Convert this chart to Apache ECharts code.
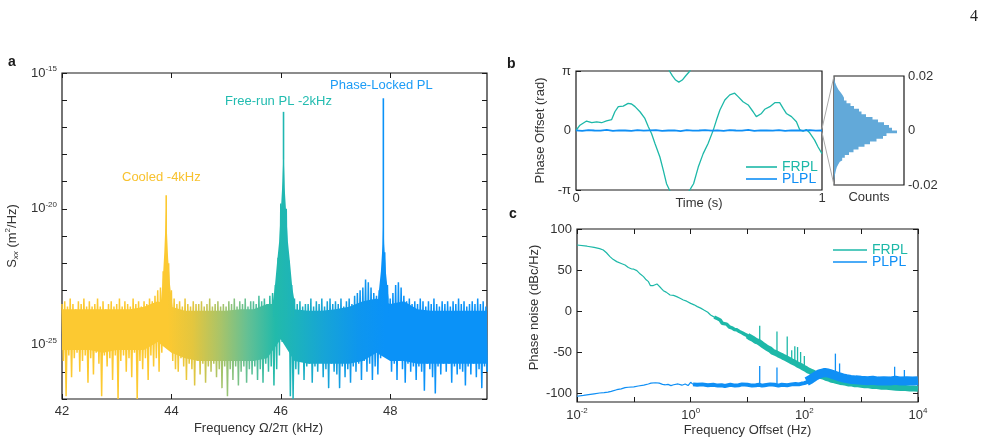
<!DOCTYPE html>
<html>
<head>
<meta charset="utf-8">
<script src="https://cdn.jsdelivr.net/npm/echarts@6/dist/echarts.min.js"></script>
<style>
  html, body { margin: 0; padding: 0; background: #fff; }
  #chart { width: 988px; height: 444px; }
</style>
</head>
<body>
<div id="chart"></div>
<script>
// ---- panel a: Sxx spectrum, log10(m^2/Hz), one max/min pair per 0.05 kHz from 42 kHz
const specStart = 42.0;
const specStep = 0.05;
const specHi = [
  -23.5,-23.4,-23.6,-23.3,-23.5,-23.7,-23.4,-23.5,-23.3,-23.6,
  -23.4,-23.6,-23.5,-23.3,-23.6,-23.4,-23.7,-23.5,-23.4,-23.6,
  -23.5,-23.3,-23.6,-23.4,-23.5,-23.6,-23.3,-23.5,-23.4,-23.6,
  -23.4,-23.5,-23.3,-23.4,-23.2,-23.0,-22.9,-22.3,-21.2,-22.0,
  -23.0,-23.3,-23.5,-23.4,-23.6,-23.3,-23.5,-23.6,-23.4,-23.5,
  -23.5,-23.4,-23.6,-23.5,-23.3,-23.6,-23.5,-23.4,-23.6,-23.5,
  -23.6,-23.4,-23.5,-23.3,-23.6,-23.4,-23.5,-23.3,-23.6,-23.4,
  -23.4,-23.5,-23.2,-23.4,-23.3,-23.5,-23.2,-23.1,-22.8,-21.8,
  -19.8,-18.2,-20.0,-21.9,-22.8,-23.3,-23.5,-23.4,-23.6,-23.5,
  -23.5,-23.3,-23.6,-23.4,-23.5,-23.3,-23.6,-23.4,-23.3,-23.5,
  -23.4,-23.5,-23.3,-23.6,-23.4,-23.3,-23.5,-23.2,-23.1,-23.0,
  -22.9,-22.6,-22.7,-22.9,-23.1,-23.2,-23.0,-22.5,-21.6,-22.8,
  -23.3,-23.1,-22.8,-22.7,-22.9,-23.2,-23.4,-23.3,-23.5,-23.4,
  -23.5,-23.3,-23.4,-23.6,-23.4,-23.5,-23.3,-23.5,-23.6,-23.4,
  -23.5,-23.4,-23.6,-23.4,-23.5,-23.3,-23.5,-23.4,-23.6,-23.5,
  -23.4,-23.5,-23.3,-23.5,-23.4,-23.6
];
const specLo = [
  -25.6,-26.9,-25.4,-26.2,-25.5,-25.3,-26.0,-25.6,-25.4,-26.4,
  -25.5,-26.1,-25.3,-25.7,-26.9,-25.4,-25.8,-25.5,-26.3,-25.4,
  -27.0,-25.6,-25.4,-26.0,-25.5,-26.2,-25.3,-27.0,-25.6,-25.9,
  -25.5,-26.3,-25.4,-25.8,-25.5,-26.0,-25.3,-24.9,-24.8,-25.0,
  -25.6,-25.9,-26.0,-25.5,-25.8,-26.3,-25.7,-25.9,-26.5,-25.6,
  -26.1,-25.7,-26.4,-25.8,-26.0,-25.7,-26.2,-25.9,-26.6,-25.8,
  -26.9,-25.9,-26.3,-25.8,-26.5,-26.0,-25.8,-26.4,-25.9,-26.1,
  -25.8,-26.3,-25.9,-26.4,-25.7,-26.0,-25.8,-26.5,-25.9,-25.4,
  -24.9,-24.7,-25.0,-26.9,-27.0,-25.9,-26.1,-25.6,-26.3,-25.8,
  -25.7,-26.4,-25.8,-26.0,-25.6,-26.2,-25.9,-26.6,-25.7,-26.0,
  -26.1,-26.6,-25.8,-26.2,-25.9,-26.4,-25.8,-26.0,-25.7,-26.3,
  -25.6,-26.0,-25.7,-26.3,-25.8,-26.1,-25.5,-25.0,-24.7,-25.3,
  -26.0,-25.7,-26.3,-25.6,-25.9,-26.4,-25.7,-26.0,-25.8,-26.3,
  -25.8,-26.0,-26.7,-25.7,-25.9,-26.2,-26.8,-25.8,-26.1,-25.7,
  -26.0,-25.7,-26.4,-25.8,-26.1,-25.9,-26.0,-26.5,-25.8,-26.1,
  -25.7,-26.2,-25.9,-26.6,-25.8,-26.0
];
// solid body of the noise band, read every 0.25 kHz from 42 kHz
const coreStart = 42.0;
const coreStep = 0.25;
const coreHi = [-23.7,-23.7,-23.7,-23.7,-23.7,-23.7,-23.6,-23.4,-23.6,-23.75,-23.75,-23.75,-23.75,-23.7,-23.7,-23.5,-23.5,-23.7,-23.75,-23.75,-23.7,-23.6,-23.4,-23.3,-23.5,-23.4,-23.7,-23.75,-23.75,-23.75,-23.75,-23.75];
const coreLo = [-25.2,-25.2,-25.2,-25.3,-25.2,-25.2,-25.2,-24.9,-25.3,-25.5,-25.6,-25.6,-25.6,-25.6,-25.6,-25.5,-24.8,-25.6,-25.7,-25.7,-25.7,-25.7,-25.6,-25.3,-25.6,-25.6,-25.7,-25.7,-25.7,-25.7,-25.7,-25.7];
// filled shoulders of the three resonances
const cooledBodyF = [43.80, 43.84, 43.87, 43.89, 43.905, 43.92, 43.94, 43.97, 44.02];
const cooledBodyS = [-23.6, -22.7, -21.6, -20.6, -19.8, -20.9, -21.8, -22.7, -23.6];
const freeBodyF = [45.85, 45.89, 45.93, 45.97, 46.0, 46.03, 46.05, 46.07, 46.1, 46.13, 46.17, 46.21, 46.26];
const freeBodyS = [-23.5, -22.9, -22.0, -21.2, -20.1, -19.0, -17.8, -19.2, -20.2, -21.2, -22.0, -22.9, -23.5];
const lockBodyF = [47.78, 47.83, 47.86, 47.875, 47.89, 47.92, 47.97];
const lockBodyS = [-23.3, -22.3, -21.3, -20.2, -21.3, -22.3, -23.3];
// narrow resonance tips
const peakFreq = [43.905, 46.05, 47.875];
const peakBase = [-21.2, -18.2, -21.6];
const peakTop = [-19.5, -16.43, -15.93];
const specTickExp = [-27,-26,-25,-24,-23,-22,-21,-20,-19,-18,-17,-16,-15];
const specLabelExp = [-25, -20, -15];
const freqTicks = [42, 44, 46, 48];

// ---- panel b: phase offset vs time (unwrapped FRPL, PLPL near zero)
const frplT = [0,0.016,0.043,0.064,0.084,0.104,0.124,0.145,0.158,0.172,0.192,0.212,0.226,0.240,0.260,0.280,0.294,0.307,0.321,0.341,0.355,0.368,0.380,0.392,0.405,0.418,0.432,0.447,0.463,0.470,0.478,0.497,0.517,0.537,0.558,0.571,0.585,0.605,0.625,0.645,0.659,0.679,0.700,0.720,0.733,0.754,0.767,0.788,0.808,0.828,0.842,0.855,0.876,0.896,0.909,0.923,0.936,0.950,0.970,0.984,1.0];
const frplPhi = [0,0.28,0.50,0.41,0.46,0.41,0.51,0.58,0.99,1.26,1.29,1.43,1.40,1.26,0.99,0.64,0.20,-0.16,-0.69,-1.40,-2.11,-2.81,-3.14,-3.40,-3.62,-3.73,-3.62,-3.38,-3.14,-2.98,-2.81,-1.93,-1.22,-0.69,0.02,0.55,1.08,1.61,1.88,1.97,1.79,1.52,1.35,0.99,0.73,0.90,1.12,1.26,1.47,1.47,1.17,0.90,0.73,0.46,0.05,-0.04,0.05,-0.12,-0.51,-0.87,-1.22];
const plplStep = 0.025;
const plplPhi = [0.01,-0.02,0.02,0,-0.01,0.03,-0.02,0.01,0,-0.02,0.02,-0.01,0.01,0.02,-0.02,0,0.01,-0.03,0.02,-0.01,0,0.02,-0.01,0.01,-0.02,0.02,0,-0.01,0.03,-0.02,0.01,0,-0.01,0.02,-0.02,0.01,0,-0.01,0.02,-0.01,0];
// PLPL phase histogram, 0.001 rad bins from -0.02, counts (arbitrary units)
const histStart = -0.02;
const histWidth = 0.001;
const histCounts = [0,0,0.4,0.8,1.4,2.0,2.8,4.2,5.8,8.2,10.8,15.0,19.5,24.5,30.5,36.0,42.5,49.0,52.5,63,58,55,50,44,38.5,32,27.5,25,20,16.5,12.5,10,8.5,6.5,4.5,3,1.8,0.8,0.2,0];

// ---- panel c: phase noise (dBc/Hz) vs offset frequency (Hz)
const frplLoF = [0.01,0.015,0.02,0.025,0.029,0.033,0.038,0.043,0.05,0.06,0.07,0.08,0.092,0.1,0.113,0.13,0.148,0.165,0.181,0.195,0.207,0.22,0.237,0.255,0.271,0.3,0.331,0.37,0.4,0.434,0.47,0.5,0.53,0.568,0.61,0.65,0.7,0.743,0.8,0.85,0.92,1.0,1.08,1.15,1.23,1.31,1.4,1.5,1.6,1.71,1.85,2.0,2.24,2.6,3.0,3.3];
const frplLoDb = [80.5,79,77.5,76,74.4,71,66.3,63,60.2,58,56.1,53,51.2,51,49.2,45,41.9,38,35.8,31,28.9,31,32.9,33,31.7,28,24.8,23,21.5,19.5,20.5,19,18.5,17.5,16.5,15.5,14.5,13.4,13,12,10.5,9.3,8.5,7.5,6.8,5.3,5,3.5,2.5,1.2,0,-1.5,-4.9,-7.5,-9.5,-11];
const frplMidF = [2.6,3.0,3.3,3.6,3.9,4.3,4.8,5.3,5.9,6.5,7.2,8,9,10,11];
const frplMidDb = [-7.5,-9.5,-11,-15,-17,-16,-19.5,-20.5,-22.5,-23,-25,-26.5,-28.5,-30,-32];
const frplHiF = [10,11,12.5,14,15.5,17.5,19.5,22,25,28,31,35,39,44,49,55,62,69,77,86,96,108,120,135,150,170,190,215,240,270,300,340,380,430,480,540,610,690,780,880,1000,1150,1350,1600,1900,2300,2800,3400,4100,5000,6000,7200,8600,10000];
const frplHiDb = [-30,-32,-34,-36.5,-37.5,-40,-42.5,-45,-47,-50,-51,-53,-54.5,-56.5,-58,-60,-62,-63.5,-65.5,-67,-69,-71,-73,-74.5,-76,-77.5,-79,-80,-81.5,-82.5,-84,-84.5,-85.5,-86.5,-87,-87.5,-88.5,-88.5,-89.5,-89.5,-90,-90.5,-90.5,-91.5,-91.5,-92.5,-92.5,-93,-93.5,-94,-94,-94.5,-94.5,-95];
const frplSpurF = [16.4, 33, 50, 60, 68, 76, 86, 100];
const frplSpurBase = [-38, -50, -58, -61, -63, -65, -67, -69];
const frplSpurTop = [-18, -25, -31, -48, -43, -44, -50, -55];
const plplLoF = [0.01,0.013,0.016,0.02,0.025,0.03,0.035,0.04,0.05,0.06,0.07,0.08,0.1,0.12,0.15,0.18,0.2,0.24,0.28,0.32,0.36,0.4,0.45,0.5,0.6,0.7,0.8,0.9,1.0,1.1];
const plplLoDb = [-104,-103,-102,-101,-100,-99.5,-99,-98,-96,-95,-93.5,-93,-92.5,-91.5,-90.5,-89,-88,-87.5,-88,-89.5,-90,-89.5,-91,-90,-89,-90.5,-89,-91,-87,-89.5];
const plplMidF = [1.1,1.3,1.6,2,2.5,3,3.5,4,5,6,7,8,10,12,14,16,18,20,25,30,35,40,50,60,70,80,90,100,115,130];
const plplMidDb = [-89.5,-90,-89.5,-90.5,-90,-91,-90.5,-91.5,-90,-91,-90.5,-89.5,-90,-91,-90.5,-90,-91,-90.5,-89.5,-90,-91,-90,-90.5,-89.5,-89,-89.5,-88.5,-88,-86.5,-84.5];
const plplHiF = [110,125,140,160,180,200,230,260,300,350,400,470,550,650,800,1000,1300,1600,2000,2500,3200,4000,5000,6300,8000,10000];
const plplHiDb = [-86,-84,-81.5,-79,-77,-76,-75,-75.5,-77,-78.5,-80,-81.5,-82.5,-83.5,-84,-84.5,-85,-84.5,-85.5,-85,-85.5,-84.5,-85.5,-85,-85.5,-85];
const plplSpurF = [16.4, 33, 352, 417, 3880, 5760];
const plplSpurBase = [-89, -89, -78, -80, -82, -82];
const plplSpurTop = [-67, -69, -52, -64, -68, -72];
const noiseTicks = [-100, -50, 0, 50, 100];
const offsetTickExp = [-2, -1, 0, 1, 2, 3, 4];
const offsetLabelExp = [-2, 0, 2, 4];

// ---- styles
const FONT = '"Liberation Sans", Arial, Helvetica, sans-serif';
const INK = '#1a1a1a';
const LABEL = '#333';
const TEAL = '#1db8a8';
const BLUE = '#0f8ff5';
const HIST = '#62a9d9';
const specStops = [
  [43.95, [252, 201, 49]],
  [44.4, [228, 198, 62]],
  [44.9, [170, 196, 104]],
  [45.4, [100, 192, 148]],
  [45.9, [34, 186, 170]],
  [46.3, [28, 178, 190]],
  [46.8, [22, 164, 215]],
  [47.4, [14, 150, 238]],
  [47.9, [10, 146, 248]]
];
const rgb = c => 'rgb(' + c.join(',') + ')';
function colorAt(f) {
  if (f <= specStops[0][0]) return rgb(specStops[0][1]);
  for (let i = 1; i < specStops.length; i++) {
    const [f1, c1] = specStops[i];
    if (f <= f1) {
      const [f0, c0] = specStops[i - 1];
      const k = (f - f0) / (f1 - f0);
      return rgb(c0.map((c, j) => Math.round(c + (c1[j] - c) * k)));
    }
  }
  return rgb(specStops[specStops.length - 1][1]);
}

const pow10 = v => '{b|10}{s|' + v + '}';
const powRich = {
  b: { fontSize: 13, color: LABEL, fontFamily: FONT, lineHeight: 16 },
  s: { fontSize: 8, color: LABEL, fontFamily: FONT, lineHeight: 10, verticalAlign: 'top' }
};
const inTick = vals => ({ show: true, inside: true, length: 5, customValues: vals, lineStyle: { color: INK, width: 1 } });
const noLabel = { show: false };
const noLine = { show: false, onZero: false };
const noSplit = { show: false };
const lbl = (vals, extra) => Object.assign({ customValues: vals, fontSize: 13, color: LABEL, fontFamily: FONT }, extra || {});
const gridBox = { show: true, borderColor: INK, borderWidth: 1.2, backgroundColor: 'transparent' };

// the spectrum trace: each 0.05 kHz slot swings from its max to its min, like the dense raw trace
const specTrace = [];
specHi.forEach((h, i) => {
  specTrace.push([specStart + i * specStep, h]);
  specTrace.push([specStart + (i + 0.5) * specStep, specLo[i]]);
});
const specEnd = specStart + (specHi.length - 0.5) * specStep;
const specGradient = {
  type: 'linear', x: 0, y: 0, x2: 1, y2: 0,
  colorStops: specStops.map(([f, c]) => ({ offset: (f - specStart) / (specEnd - specStart), color: rgb(c) }))
};
const peakData = peakFreq.map((f, i) => [f, peakBase[i], peakTop[i]]);
const peakBodies = [[cooledBodyF, cooledBodyS], [freeBodyF, freeBodyS], [lockBodyF, lockBodyS]];
const logPairs = (fs, vs) => fs.map((f, i) => [Math.log10(f), vs[i]]);
const spurs = (fs, base, top) => fs.map((f, i) => [Math.log10(f), base[i], top[i]]);

// solid body of the band as one filled outline
function renderCore(params, api) {
  const xs = coreHi.map((h, i) => coreStart + i * coreStep);
  const pts = [];
  xs.forEach((x, i) => pts.push(api.coord([x, coreHi[i]])));
  pts.push(api.coord([50, coreHi[coreHi.length - 1]]));
  pts.push(api.coord([50, coreLo[coreLo.length - 1]]));
  for (let i = xs.length - 1; i >= 0; i--) pts.push(api.coord([xs[i], coreLo[i]]));
  const x0 = api.coord([specStart, -20])[0];
  const x1 = api.coord([specEnd, -20])[0];
  const stops = specStops.map(([f, c]) => ({ offset: (api.coord([f, -20])[0] - x0) / (x1 - x0), color: rgb(c) }));
  return {
    type: 'polygon',
    shape: { points: pts },
    style: { fill: new echarts.graphic.LinearGradient(x0, 0, x1, 0, stops, true), stroke: null }
  };
}
// one filled shoulder per resonance, closed on the band at -24
function renderBody(params, api) {
  const [fs, ss] = peakBodies[params.dataIndex];
  const pts = fs.map((f, i) => api.coord([f, ss[i]]));
  pts.push(api.coord([fs[fs.length - 1], -24]));
  pts.push(api.coord([fs[0], -24]));
  return {
    type: 'polygon',
    shape: { points: pts },
    style: { fill: colorAt(api.value(0)), stroke: null }
  };
}
function spikeRenderer(colorFn, width) {
  return function (params, api) {
    const x = api.value(0);
    const a = api.coord([x, api.value(1)]);
    const b = api.coord([x, api.value(2)]);
    return {
      type: 'line',
      shape: { x1: a[0], y1: a[1], x2: b[0], y2: b[1] },
      style: { stroke: colorFn(x), lineWidth: width }
    };
  };
}

const chart = echarts.init(document.getElementById('chart'), null, { renderer: 'canvas' });

const legendCommon = {
  orient: 'vertical', icon: 'rect', itemHeight: 1.6, itemGap: -2,
  textStyle: { fontSize: 14, fontFamily: FONT }
};
const thick = (color, width) => ({ color: color, width: width, cap: 'butt', join: 'bevel' });

const option = {
  animation: false,
  textStyle: { fontFamily: FONT },
  grid: [
    Object.assign({ left: 62, top: 73, width: 425, height: 326 }, gridBox),
    Object.assign({ left: 576, top: 71, width: 246, height: 119 }, gridBox),
    Object.assign({ left: 834, top: 76, width: 70, height: 109 }, gridBox),
    Object.assign({ left: 577, top: 229, width: 341, height: 173 }, gridBox)
  ],
  xAxis: [
    { gridIndex: 0, type: 'value', min: 42, max: 49.77, axisLine: noLine, splitLine: noSplit,
      axisTick: inTick(freqTicks), axisLabel: lbl(freqTicks, { margin: 6 }),
      name: 'Frequency Ω/2π (kHz)', nameLocation: 'middle', nameGap: 23, nameMoveOverlap: false,
      nameTextStyle: { fontSize: 13, color: LABEL, padding: [0, 32, 0, 0] } },
    { gridIndex: 0, type: 'value', position: 'top', min: 42, max: 49.77, axisLine: noLine, splitLine: noSplit,
      axisTick: inTick(freqTicks), axisLabel: noLabel },
    { gridIndex: 1, type: 'value', min: 0, max: 1, axisLine: noLine, splitLine: noSplit,
      axisTick: { show: false }, axisLabel: lbl([0, 1], { margin: 2 }),
      name: 'Time (s)', nameLocation: 'middle', nameGap: 7, nameMoveOverlap: false,
      nameTextStyle: { fontSize: 13, color: LABEL } },
    { gridIndex: 2, type: 'value', min: 0, max: 70, axisLine: noLine, splitLine: noSplit,
      axisTick: { show: false }, axisLabel: noLabel,
      name: 'Counts', nameLocation: 'middle', nameGap: 6, nameMoveOverlap: false,
      nameTextStyle: { fontSize: 13, color: LABEL } },
    { gridIndex: 3, type: 'value', min: -2, max: 4, axisLine: noLine, splitLine: noSplit,
      axisTick: inTick(offsetTickExp),
      axisLabel: lbl(offsetLabelExp, { margin: 5, formatter: pow10, rich: powRich }),
      name: 'Frequency Offset (Hz)', nameLocation: 'middle', nameGap: 22, nameMoveOverlap: false,
      nameTextStyle: { fontSize: 13, color: LABEL } },
    { gridIndex: 3, type: 'value', position: 'top', min: -2, max: 4, axisLine: noLine, splitLine: noSplit,
      axisTick: inTick(offsetTickExp), axisLabel: noLabel }
  ],
  yAxis: [
    { gridIndex: 0, type: 'value', min: -27, max: -15, axisLine: noLine, splitLine: noSplit,
      axisTick: inTick(specTickExp),
      axisLabel: lbl(specLabelExp, { margin: 5, formatter: pow10, rich: powRich }),
      name: '{n|S}{sub|xx}{n| (m}{sup|2}{n|/Hz)}', nameLocation: 'middle', nameGap: 42, nameRotate: 90,
      nameMoveOverlap: false,
      nameTextStyle: { rich: {
        n: { fontSize: 13, color: LABEL, fontFamily: FONT, lineHeight: 16 },
        sub: { fontSize: 8, color: LABEL, fontFamily: FONT, fontStyle: 'italic', verticalAlign: 'bottom', lineHeight: 10 },
        sup: { fontSize: 8, color: LABEL, fontFamily: FONT, verticalAlign: 'top', lineHeight: 10 }
      } } },
    { gridIndex: 0, type: 'value', position: 'right', min: -27, max: -15, axisLine: noLine, splitLine: noSplit,
      axisTick: inTick(specTickExp), axisLabel: noLabel },
    { gridIndex: 1, type: 'value', min: -Math.PI, max: Math.PI, axisLine: noLine, splitLine: noSplit,
      axisTick: inTick([-Math.PI, 0, Math.PI]),
      axisLabel: lbl([-Math.PI, 0, Math.PI], { margin: 5,
        formatter: v => (v > 1 ? 'π' : (v < -1 ? '-π' : '0')) }),
      name: 'Phase Offset (rad)', nameLocation: 'middle', nameGap: 29, nameMoveOverlap: false,
      nameTextStyle: { fontSize: 13, color: LABEL } },
    { gridIndex: 1, type: 'value', position: 'right', min: -Math.PI, max: Math.PI, axisLine: noLine, splitLine: noSplit,
      axisTick: inTick([0]), axisLabel: noLabel },
    { gridIndex: 2, type: 'category', show: false, boundaryGap: true,
      axisLine: noLine,
      data: histCounts.map((c, i) => (histStart + (i + 0.5) * histWidth).toFixed(4)) },
    { gridIndex: 2, type: 'value', position: 'right', min: -0.02, max: 0.02, axisLine: noLine, splitLine: noSplit,
      axisTick: { show: false },
      axisLabel: lbl([-0.02, 0, 0.02], { margin: 4, formatter: v => (v === 0 ? '0' : v.toFixed(2)) }) },
    { gridIndex: 2, type: 'value', position: 'left', min: -0.02, max: 0.02, axisLine: noLine, splitLine: noSplit,
      axisTick: inTick([0]), axisLabel: noLabel },
    { gridIndex: 3, type: 'value', min: -111, max: 100, axisLine: noLine, splitLine: noSplit,
      axisTick: inTick(noiseTicks), axisLabel: lbl(noiseTicks, { margin: 5 }),
      name: 'Phase noise (dBc/Hz)', nameLocation: 'middle', nameGap: 36, nameMoveOverlap: false,
      nameTextStyle: { fontSize: 13, color: LABEL, padding: [0, 0, 0, 16] } },
    { gridIndex: 3, type: 'value', position: 'right', min: -111, max: 100, axisLine: noLine, splitLine: noSplit,
      axisTick: inTick(noiseTicks), axisLabel: noLabel }
  ],
  legend: [
    Object.assign({ left: 741, top: 155, itemWidth: 31,
      data: [{ name: 'FRPL', textStyle: { color: TEAL } }, { name: 'PLPL', textStyle: { color: BLUE } }] }, legendCommon),
    Object.assign({ left: 828, top: 238, itemWidth: 34,
      data: [{ name: 'FRPL', textStyle: { color: TEAL } }, { name: 'PLPL', textStyle: { color: BLUE } }] }, legendCommon)
  ],
  graphic: [
    { id: 'la', type: 'text', left: 8, top: 55, style: { text: 'a', font: 'bold 14px ' + FONT, fill: INK } },
    { id: 'lb', type: 'text', left: 507, top: 57, style: { text: 'b', font: 'bold 14px ' + FONT, fill: INK } },
    { id: 'lc', type: 'text', left: 509, top: 207, style: { text: 'c', font: 'bold 14px ' + FONT, fill: INK } },
    { id: 'pg', type: 'text', left: 970, top: 9, style: { text: '4', font: '16px "Liberation Serif", serif', fill: '#222' } },
    { id: 't1', type: 'text', left: 122, top: 171, style: { text: 'Cooled -4kHz', font: '13px ' + FONT, fill: '#f8c22f' } },
    { id: 't2', type: 'text', left: 225, top: 95, style: { text: 'Free-run PL -2kHz', font: '13px ' + FONT, fill: '#22bcb0' } },
    { id: 't3', type: 'text', left: 330, top: 79, style: { text: 'Phase-Locked PL', font: '13px ' + FONT, fill: '#1c9cf6' } }
  ],
  series: [
    // a
    { type: 'custom', name: 'core', xAxisIndex: 0, yAxisIndex: 0, clip: true,
      renderItem: renderCore, data: [[coreStart, -25]] },
    { type: 'line', name: 'spectrum', xAxisIndex: 0, yAxisIndex: 0, symbol: 'none', clip: true,
      lineStyle: { color: specGradient, width: 1.5 }, data: specTrace },
    { type: 'custom', name: 'bodies', xAxisIndex: 0, yAxisIndex: 0, clip: true,
      renderItem: renderBody, data: peakFreq.map(f => [f, -24]) },
    { type: 'custom', name: 'peaks', xAxisIndex: 0, yAxisIndex: 0, clip: true,
      renderItem: spikeRenderer(colorAt, 1.6), encode: { x: 0, y: [1, 2] }, data: peakData },
    // b
    { type: 'line', name: 'FRPL', xAxisIndex: 2, yAxisIndex: 2, symbol: 'none', clip: true,
      lineStyle: { color: TEAL, width: 1.3 }, itemStyle: { color: TEAL },
      data: frplT.map((t, i) => [t, frplPhi[i]]) },
    { type: 'line', name: 'FRPL wrapped', xAxisIndex: 2, yAxisIndex: 2, symbol: 'none', clip: true,
      lineStyle: { color: TEAL, width: 1.3 }, itemStyle: { color: TEAL },
      data: frplT.map((t, i) => [t, frplPhi[i] + 2 * Math.PI]) },
    { type: 'line', name: 'PLPL', xAxisIndex: 2, yAxisIndex: 2, symbol: 'none', clip: true,
      lineStyle: { color: BLUE, width: 1.8 }, itemStyle: { color: BLUE },
      data: plplPhi.map((v, i) => [i * plplStep, v]) },
    { type: 'line', name: 'hist', xAxisIndex: 3, yAxisIndex: 4, symbol: 'none', step: 'middle',
      lineStyle: { width: 0 }, areaStyle: { color: HIST, opacity: 1 }, data: histCounts },
    // c
    { type: 'line', name: 'FRPL', xAxisIndex: 4, yAxisIndex: 7, symbol: 'none', clip: true,
      lineStyle: { color: TEAL, width: 1.2 }, itemStyle: { color: TEAL },
      data: logPairs(frplLoF, frplLoDb) },
    { type: 'line', name: 'FRPL', xAxisIndex: 4, yAxisIndex: 7, symbol: 'none', clip: true,
      lineStyle: thick(TEAL, 3.5), itemStyle: { color: TEAL },
      data: logPairs(frplMidF, frplMidDb) },
    { type: 'line', name: 'FRPL', xAxisIndex: 4, yAxisIndex: 7, symbol: 'none', clip: true,
      lineStyle: thick(TEAL, 6), itemStyle: { color: TEAL },
      data: logPairs(frplHiF, frplHiDb) },
    { type: 'custom', name: 'FRPL spurs', xAxisIndex: 4, yAxisIndex: 7, clip: true,
      renderItem: spikeRenderer(() => TEAL, 1.3), encode: { x: 0, y: [1, 2] },
      data: spurs(frplSpurF, frplSpurBase, frplSpurTop) },
    { type: 'line', name: 'PLPL', xAxisIndex: 4, yAxisIndex: 7, symbol: 'none', clip: true,
      lineStyle: { color: BLUE, width: 1.2 }, itemStyle: { color: BLUE },
      data: logPairs(plplLoF, plplLoDb) },
    { type: 'line', name: 'PLPL', xAxisIndex: 4, yAxisIndex: 7, symbol: 'none', clip: true,
      lineStyle: thick(BLUE, 4), itemStyle: { color: BLUE },
      data: logPairs(plplMidF, plplMidDb) },
    { type: 'line', name: 'PLPL', xAxisIndex: 4, yAxisIndex: 7, symbol: 'none', clip: true,
      lineStyle: thick(BLUE, 9), itemStyle: { color: BLUE },
      data: logPairs(plplHiF, plplHiDb) },
    { type: 'custom', name: 'PLPL spurs', xAxisIndex: 4, yAxisIndex: 7, clip: true,
      renderItem: spikeRenderer(() => BLUE, 1.3), encode: { x: 0, y: [1, 2] },
      data: spurs(plplSpurF, plplSpurBase, plplSpurTop) }
  ]
};
chart.setOption(option);

// grey zoom lines from the zero line of b to the histogram corners
const zeroA = chart.convertToPixel({ xAxisIndex: 2, yAxisIndex: 2 }, [1, 0.1]);
const zeroB = chart.convertToPixel({ xAxisIndex: 2, yAxisIndex: 2 }, [1, -0.1]);
const cornerA = chart.convertToPixel({ xAxisIndex: 3, yAxisIndex: 5 }, [0, 0.02]);
const cornerB = chart.convertToPixel({ xAxisIndex: 3, yAxisIndex: 5 }, [0, -0.02]);
chart.setOption({
  graphic: [
    { id: 'z1', type: 'line', shape: { x1: zeroA[0], y1: zeroA[1], x2: cornerA[0], y2: cornerA[1] },
      style: { stroke: '#aaa', lineWidth: 1 } },
    { id: 'z2', type: 'line', shape: { x1: zeroB[0], y1: zeroB[1], x2: cornerB[0], y2: cornerB[1] },
      style: { stroke: '#aaa', lineWidth: 1 } }
  ]
});
</script>
</body>
</html>
